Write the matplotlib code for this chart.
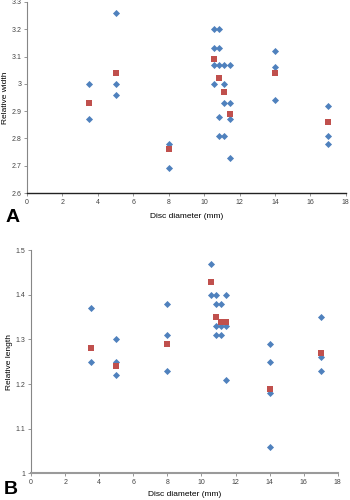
import matplotlib
matplotlib.use("Agg")
import matplotlib.pyplot as plt
from matplotlib.ticker import FuncFormatter, MultipleLocator

# Panel A: relative width
a_blue_x = [3.5, 3.5,
            5, 5, 5,
            8, 8,
            10.55, 10.55, 10.55, 10.55,
            10.85, 10.85, 10.85, 10.85, 10.85,
            11.15, 11.15, 11.15, 11.15,
            11.45, 11.45, 11.45, 11.45,
            14, 14, 14,
            17, 17, 17]
a_blue_y = [3.0, 2.87,
            3.26, 3.0, 2.96,
            2.78, 2.69,
            3.2, 3.13, 3.07, 3.0,
            3.2, 3.13, 3.07, 2.88, 2.81,
            3.07, 3.0, 2.93, 2.81,
            3.07, 2.93, 2.87, 2.73,
            3.12, 3.06, 2.94,
            2.92, 2.81, 2.78]
a_mean_x = [3.5, 5, 8, 10.55, 10.85, 11.15, 11.45, 14, 17]
a_mean_y = [2.93, 3.04, 2.76, 3.09, 3.02, 2.97, 2.89, 3.04, 2.86]

# Panel B: relative length
b_blue_x = [3.5, 3.5,
            5, 5, 5,
            8, 8, 8,
            10.55, 10.55,
            10.85, 10.85, 10.85, 10.85,
            11.15, 11.15, 11.15,
            11.45, 11.45, 11.45,
            14, 14, 14, 14,
            17, 17, 17]
b_blue_y = [1.37, 1.25,
            1.30, 1.25, 1.22,
            1.38, 1.31, 1.23,
            1.47, 1.40,
            1.40, 1.38, 1.33, 1.31,
            1.38, 1.33, 1.31,
            1.40, 1.33, 1.21,
            1.29, 1.25, 1.18, 1.06,
            1.35, 1.26, 1.23]
b_mean_x = [3.5, 5, 8, 10.55, 10.85, 11.15, 11.45, 14, 17]
b_mean_y = [1.28, 1.24, 1.29, 1.43, 1.35, 1.34, 1.34, 1.19, 1.27]

BLUE = "#4F81BD"
RED = "#C0504D"
GRAY = "#868686"
plt.rcParams['font.family'] = ['Liberation Sans', 'DejaVu Sans']

fig = plt.figure(figsize=(3.5, 5), dpi=100)
axA = fig.add_axes([0.077, 0.614, 0.911, 0.382])
axB = fig.add_axes([0.089, 0.0534, 0.876, 0.446])

fmt = FuncFormatter(lambda v, p: "%g" % round(v, 2))

def style(ax, ymin, ymax, ylab, spine_color, spine_w, xpad):
    ax.set_xlim(0, 18)
    ax.set_ylim(ymin, ymax)
    ax.xaxis.set_major_locator(MultipleLocator(2))
    ax.yaxis.set_major_locator(MultipleLocator(0.1))
    ax.yaxis.set_major_formatter(fmt)
    for s in ("top", "right"):
        ax.spines[s].set_visible(False)
    ax.spines["left"].set_color(GRAY)
    ax.spines["left"].set_linewidth(0.8)
    ax.spines["bottom"].set_color(spine_color)
    ax.spines["bottom"].set_linewidth(spine_w)
    ax.tick_params(direction="out", length=2, width=0.6, color=GRAY,
                   labelsize=5, labelcolor="#444444", pad=2)
    ax.set_xlabel("Disc diameter (mm)", fontsize=6, labelpad=xpad)
    ax.set_ylabel(ylab, fontsize=6, labelpad=2)

axA.scatter(a_blue_x, a_blue_y, marker="D", s=13, color=BLUE, zorder=3, linewidths=0)
axA.scatter(a_mean_x, a_mean_y, marker="s", s=24, color=RED, zorder=4, linewidths=0)
style(axA, 2.6, 3.3, "Relative width", "#222222", 1.0, 5)

axB.scatter(b_blue_x, b_blue_y, marker="D", s=13, color=BLUE, zorder=3, linewidths=0)
axB.scatter(b_mean_x, b_mean_y, marker="s", s=24, color=RED, zorder=4, linewidths=0)
style(axB, 1.0, 1.5, "Relative length", "#9a9a9a", 1.5, 4)

fig.text(0.015, 0.556, "A", fontsize=14, fontweight="bold")
fig.text(0.01, 0.012, "B", fontsize=14, fontweight="bold")

fig.savefig("out.png", dpi=100)
